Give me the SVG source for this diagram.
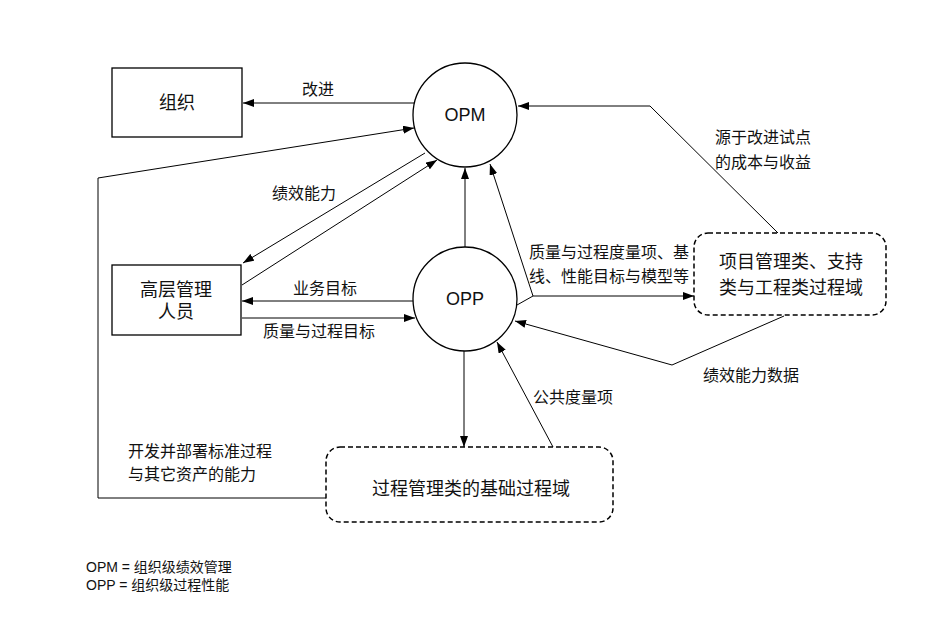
<svg xmlns="http://www.w3.org/2000/svg" width="938" height="621" viewBox="0 0 938 621">
<defs>
<marker id="ah" markerUnits="userSpaceOnUse" markerWidth="11" markerHeight="8" refX="11" refY="4" orient="auto">
<path d="M0,0 L11,4 L0,8 z" fill="#000"/>
</marker>
<style>
text{font-family:"Liberation Sans","Noto Sans CJK SC",sans-serif;fill:#111}
.lbl{font-size:16px}
.node{font-size:18px}
.leg{font-size:14px}
.box{fill:#fff;stroke:#000;stroke-width:1.3}
.dash{fill:#fff;stroke:#000;stroke-width:1.5;stroke-dasharray:5 3}
.c{fill:none;stroke:#000;stroke-width:1}
.a{marker-end:url(#ah)}
</style>
</defs>
<rect width="938" height="621" fill="#fff"/>
<g id="connectors">
<path class="c a" d="M414,103 L243,103"/>
<path class="c" d="M326,498 L98,498 L98,178"/>
<path class="c a" d="M98,178 L414,128"/>
<path class="c a" d="M425,153 L243,263"/>
<path class="c a" d="M242,285 L437,160"/>
<path class="c a" d="M413,301 L242,301"/>
<path class="c a" d="M242,318 L415,318"/>
<path class="c a" d="M465,247 L465,168"/>
<path class="c a" d="M464,351 L464,447"/>
<path class="c a" d="M553,447 L497,342"/>
<path class="c" d="M517,305 L533,296"/>
<path class="c a" d="M533,296 L694,296"/>
<path class="c a" d="M533,296 L490,164"/>
<path class="c a" d="M778,233 L650,106 L518,106"/>
<path class="c a" d="M784,316 L672,365 L515,321"/>
</g>
<g id="labels">
<text class="lbl" x="318" y="95" text-anchor="middle">改进</text>
<text class="lbl" x="304" y="199" text-anchor="middle">绩效能力</text>
<text class="lbl" x="325" y="294" text-anchor="middle">业务目标</text>
<text class="lbl" x="319" y="337" text-anchor="middle">质量与过程目标</text>
<text class="lbl" x="529" y="258">质量与过程度量项、基</text>
<text class="lbl" x="529" y="282">线、性能目标与模型等</text>
<text class="lbl" x="715" y="143">源于改进试点</text>
<text class="lbl" x="715" y="168">的成本与收益</text>
<text class="lbl" x="703" y="381">绩效能力数据</text>
<text class="lbl" x="533" y="403">公共度量项</text>
<text class="lbl" x="128" y="457">开发并部署标准过程</text>
<text class="lbl" x="128" y="480">与其它资产的能力</text>
</g>
<g id="node-org">
<rect class="box" x="112" y="68" width="130" height="69"/>
<text class="node" x="177" y="109" text-anchor="middle">组织</text>
</g>
<g id="node-mgmt">
<rect class="box" x="112" y="265" width="129" height="70"/>
<text class="node" x="176" y="296" text-anchor="middle">高层管理</text>
<text class="node" x="176" y="318" text-anchor="middle">人员</text>
</g>
<g id="node-opm">
<circle class="box" cx="465" cy="115" r="52"/>
<text class="node" x="465" y="121" text-anchor="middle">OPM</text>
</g>
<g id="node-opp">
<circle class="box" cx="465" cy="299" r="52"/>
<text class="node" x="465" y="305" text-anchor="middle">OPP</text>
</g>
<g id="node-project">
<rect class="dash" x="694" y="233" width="192" height="82" rx="14"/>
<text class="node" x="791" y="268" text-anchor="middle">项目管理类、支持</text>
<text class="node" x="791" y="294" text-anchor="middle">类与工程类过程域</text>
</g>
<g id="node-process">
<rect class="dash" x="326" y="447" width="287" height="75" rx="14"/>
<text class="node" x="471" y="495" text-anchor="middle">过程管理类的基础过程域</text>
</g>
<g id="legend">
<text class="leg" x="86" y="572">OPM = 组织级绩效管理</text>
<text class="leg" x="86" y="590">OPP = 组织级过程性能</text>
</g>
</svg>
